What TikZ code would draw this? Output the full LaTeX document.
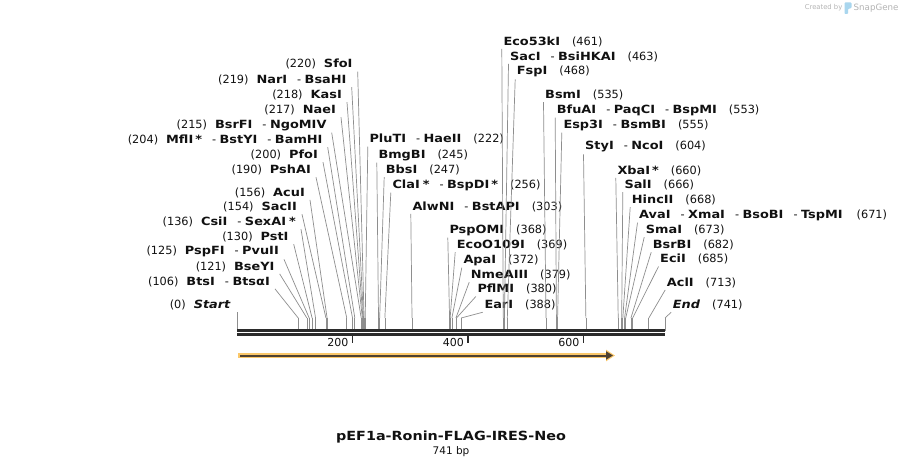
\documentclass[tikz,border=0pt]{standalone}
\usepackage{fontspec}
\setmainfont{DejaVu Sans}[BoldFeatures={FakeStretch=1.14},BoldItalicFeatures={FakeStretch=1.14}]
\usepackage{tikz}
\usetikzlibrary{arrows.meta}
\definecolor{ink}{HTML}{111111}
\definecolor{bbone}{HTML}{2B2B2B}
\definecolor{cutgray}{HTML}{8E8E8E}
\definecolor{featfill}{HTML}{FBC86A}
\definecolor{featdark}{HTML}{4F4232}
\definecolor{wmgray}{HTML}{B4B4B4}
\definecolor{wmblue}{HTML}{A9D6EE}
\newcommand{\sepdash}{\hspace{10pt}-\hspace{3.5pt}}
\tikzset{
  cutline/.style={draw=cutgray, line width=0.7pt},
  backbone/.style={draw=bbone, line width=2.6pt},
  tickmark/.style={draw=bbone, line width=1.5pt},
  lbl/.style={text=ink, inner ysep=2pt, font=\fontsize{11.3}{13}\selectfont},
  lblleft/.style={lbl, inner xsep=5pt, anchor=east},
  lblright/.style={lbl, inner xsep=1.5pt, anchor=west},
  ticklbl/.style={text=ink, inner sep=0pt, anchor=east, font=\fontsize{11}{13}\selectfont},
  feature/.style={draw=featfill, line width=5.6pt, -{Triangle[length=9pt,width=11pt]}},
  featline/.style={draw=featdark, line width=2pt, -{Triangle[length=7pt,width=8pt]}},
  wm/.style={text=wmgray, inner sep=0pt},
}

\begin{document}
\begin{tikzpicture}[x=1pt,y=-1pt]
  \useasboundingbox[fill=white] (0,0) rectangle (903,468);

  % cut sites on the backbone
  \foreach \bp in {0,106,121,125,130,136,154,156,190,200,204,215,217,218,219,220,222,245,247,256,303,368,369,372,379,380,388,461,463,468,535,553,555,604,660,666,668,671,673,682,685,713,741} {
    \coordinate (c\bp) at ({237+\bp*0.5776},330.5);
    \coordinate (t\bp) at ({237+\bp*0.5776},318);
    \draw[cutline] (c\bp) -- (t\bp);
  }

  % labels left of their sites
  \node[lblleft] (l220) at (357.7,64.3) {(220)\hspace{8pt}\textbf{SfoI}};
  \node[lblleft] (l219) at (351.7,80) {(219)\hspace{8pt}\textbf{NarI}\sepdash\textbf{BsaHI}};
  \node[lblleft] (l218) at (347,95) {(218)\hspace{8pt}\textbf{KasI}};
  \node[lblleft] (l217) at (341,110) {(217)\hspace{8pt}\textbf{NaeI}};
  \node[lblleft] (l215) at (331.7,125) {(215)\hspace{8pt}\textbf{BsrFI}\sepdash\textbf{NgoMIV}};
  \node[lblleft] (l204) at (327.7,140) {(204)\hspace{8pt}\textbf{MflI\hspace{2pt}*}\sepdash\textbf{BstYI}\sepdash\textbf{BamHI}};
  \node[lblleft] (l200) at (323,155) {(200)\hspace{8pt}\textbf{PfoI}};
  \node[lblleft] (l190) at (316,170) {(190)\hspace{8pt}\textbf{PshAI}};
  \node[lblleft] (l156) at (310,192.7) {(156)\hspace{8pt}\textbf{AcuI}};
  \node[lblleft] (l154) at (302,207) {(154)\hspace{8pt}\textbf{SacII}};
  \node[lblleft] (l136) at (301,222) {(136)\hspace{8pt}\textbf{CsiI}\sepdash\textbf{SexAI\hspace{3pt}*}};
  \node[lblleft] (l130) at (293.7,237) {(130)\hspace{8pt}\textbf{PstI}};
  \node[lblleft] (l125) at (284,251.7) {(125)\hspace{8pt}\textbf{PspFI}\sepdash\textbf{PvuII}};
  \node[lblleft] (l121) at (279.7,266.7) {(121)\hspace{8pt}\textbf{BseYI}};
  \node[lblleft] (l106) at (275,281.7) {(106)\hspace{8pt}\textbf{BtsI}\sepdash\textbf{BtsαI}};
  \node[lblleft] (l0) at (236,305) {(0)\hspace{8pt}\textbf{\textit{Start}}};

  \foreach \bp in {220,219,218,217,215,204,200,190,156,154,136,130,125,121,106}
    \draw[cutline] (t\bp) -- (l\bp.south east);
  \draw[cutline] (t0) -- ++(0,-6);

  % labels right of their sites
  \node[lblright] (l222) at (367.8,139.3) {\textbf{PluTI}\sepdash\textbf{HaeII}\hspace{12pt}(222)};
  \node[lblright] (l245) at (376.8,155) {\textbf{BmgBI}\hspace{12pt}(245)};
  \node[lblright] (l247) at (384.2,170) {\textbf{BbsI}\hspace{12pt}(247)};
  \node[lblright] (l256) at (390.8,185) {\textbf{ClaI\hspace{3pt}*}\sepdash\textbf{BspDI\hspace{2pt}*}\hspace{12pt}(256)};
  \node[lblright] (l303) at (410.8,206.7) {\textbf{AlwNI}\sepdash\textbf{BstAPI}\hspace{12pt}(303)};
  \node[lblright] (l368) at (447.8,230) {\textbf{PspOMI}\hspace{12pt}(368)};
  \node[lblright] (l369) at (455.2,245) {\textbf{EcoO109I}\hspace{12pt}(369)};
  \node[lblright] (l372) at (461.8,260) {\textbf{ApaI}\hspace{12pt}(372)};
  \node[lblright] (l379) at (469.2,275) {\textbf{NmeAIII}\hspace{12pt}(379)};
  \node[lblright] (l380) at (475.8,289.3) {\textbf{PflMI}\hspace{12pt}(380)};
  \node[lblright] (l388) at (482.8,305) {\textbf{EarI}\hspace{12pt}(388)};
  \node[lblright] (l461) at (501.8,41.7) {\textbf{Eco53kI}\hspace{12pt}(461)};
  \node[lblright] (l463) at (508.5,56.7) {\textbf{SacI}\sepdash\textbf{BsiHKAI}\hspace{12pt}(463)};
  \node[lblright] (l468) at (515.2,71.7) {\textbf{FspI}\hspace{12pt}(468)};
  \node[lblright] (l535) at (543.5,95) {\textbf{BsmI}\hspace{12pt}(535)};
  \node[lblright] (l553) at (555.2,110) {\textbf{BfuAI}\sepdash\textbf{PaqCI}\sepdash\textbf{BspMI}\hspace{12pt}(553)};
  \node[lblright] (l555) at (561.8,125) {\textbf{Esp3I}\sepdash\textbf{BsmBI}\hspace{12pt}(555)};
  \node[lblright] (l604) at (583.5,146.7) {\textbf{StyI}\sepdash\textbf{NcoI}\hspace{12pt}(604)};
  \node[lblright] (l660) at (615.8,170.7) {\textbf{XbaI\hspace{2pt}*}\hspace{12pt}(660)};
  \node[lblright] (l666) at (622.8,185) {\textbf{SalI}\hspace{12pt}(666)};
  \node[lblright] (l668) at (630.2,200) {\textbf{HincII}\hspace{12pt}(668)};
  \node[lblright] (l671) at (637.5,215) {\textbf{AvaI}\sepdash\textbf{XmaI}\sepdash\textbf{BsoBI}\sepdash\textbf{TspMI}\hspace{14pt}(671)};
  \node[lblright] (l673) at (644.2,230) {\textbf{SmaI}\hspace{12pt}(673)};
  \node[lblright] (l682) at (651.2,245) {\textbf{BsrBI}\hspace{12pt}(682)};
  \node[lblright] (l685) at (658.5,259.3) {\textbf{EciI}\hspace{12pt}(685)};
  \node[lblright] (l713) at (665.2,282.7) {\textbf{AclI}\hspace{12pt}(713)};
  \node[lblright] (l741) at (671.2,305) {\textbf{\textit{End}}\hspace{12pt}(741)};

  \foreach \bp in {222,245,247,256,303,368,369,372,379,380,388,461,463,468,535,553,555,604,660,666,668,671,673,682,685,713,741}
    \draw[cutline] (t\bp) -- (l\bp.south west);

  % double backbone and ruler
  \draw[backbone] (c0) -- (c741);
  \draw[backbone] ([yshift=-4pt]c0) -- ([yshift=-4pt]c741);
  \foreach \tk in {200,400,600} {
    \coordinate (k\tk) at ({237+\tk*0.5776},335.8);
    \draw[tickmark] (k\tk) -- ++(0,7);
    \node[ticklbl] (n\tk) at ({237+\tk*0.5776-4},342) {\tk};
  }

  % feature arrow
  \coordinate (fs) at (238,355.5);
  \coordinate (fe) at (615,355.5);
  \draw[feature] (fs) -- (fe);
  \draw[featline] ([xshift=2pt]fs) -- ([xshift=-2pt]fe);

  \node[text=ink, font=\bfseries\fontsize{12.6}{15}\selectfont] (title) at (451,437) {pEF1a-Ronin-FLAG-IRES-Neo};
  \node[text=ink, font=\fontsize{10.5}{12}\selectfont] (bplen) at (451,452) {741 bp};

  % watermark
  \node[wm, anchor=east, font=\fontsize{6.8}{8}\selectfont] (made) at (842.5,7.5) {Created by};
  \fill[wmblue, rounded corners=0.8pt] (844.5,2.5) -- (851.5,2.5) -- (851.5,8) -- (848,9) -- (848,14) -- (844.5,14) -- cycle;
  \node[wm, anchor=west, font=\fontsize{8.7}{10}\selectfont] (snap) at (853.5,7.7) {SnapGene};
\end{tikzpicture}
\end{document}
